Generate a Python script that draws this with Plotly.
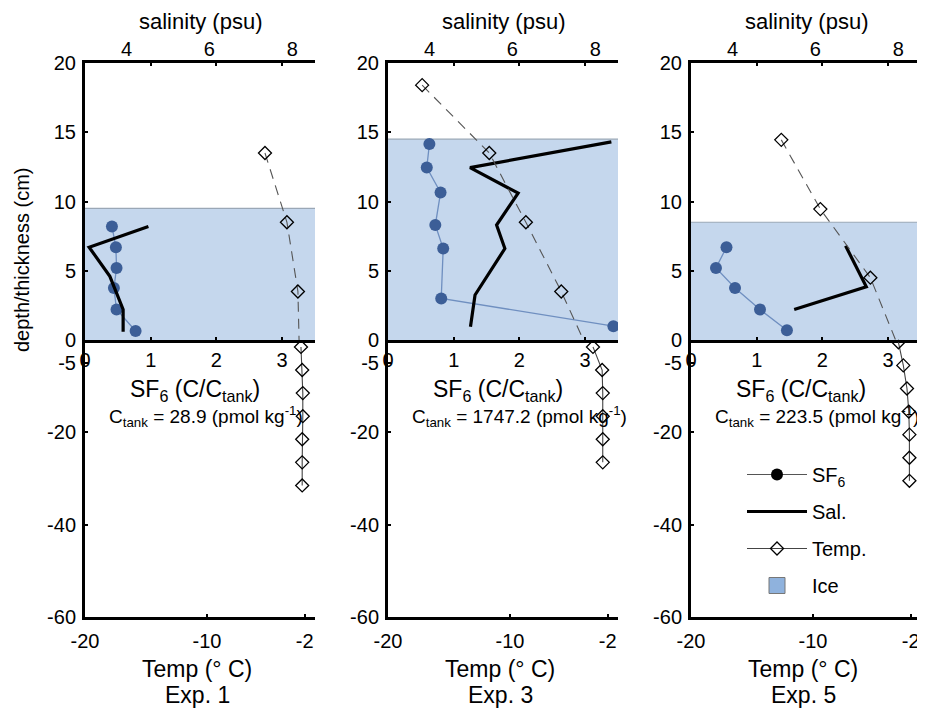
import plotly.graph_objects as go

# ---------------- data ----------------
experiments = ["Exp. 1", "Exp. 3", "Exp. 5"]
ctank_values = ["28.9", "1747.2", "223.5"]
ice_thickness = [9.5, 14.5, 8.5]

sf6_depth_1 = [8.2, 6.7, 5.2, 3.75, 2.2, 0.65]
sf6_ratio_1 = [0.41, 0.47, 0.48, 0.44, 0.48, 0.77]
sal_depth_1 = [8.2, 6.7, 4.6, 2.2, 0.6]
sal_psu_1 = [4.53, 3.10, 3.60, 3.92, 3.92]
temp_depth_1 = [13.5, 8.5, 3.5, -1.5, -6.5, -11.5, -16.5, -21.5, -26.5, -31.5]
temp_c_1 = [-5.25, -3.45, -2.55, -2.3, -2.2, -2.15, -2.15, -2.2, -2.2, -2.2]

sf6_depth_2 = [14.15, 12.45, 10.65, 8.3, 6.6, 3.0, 1.0]
sf6_ratio_2 = [0.63, 0.59, 0.80, 0.72, 0.84, 0.81, 3.43]
sal_depth_2 = [14.3, 12.45, 10.6, 8.3, 6.6, 3.25, 0.95]
sal_psu_2 = [8.39, 4.98, 6.14, 5.62, 5.82, 5.10, 4.99]
temp_depth_2 = [18.4, 13.5, 8.5, 3.5, -1.5, -6.5, -11.5, -16.5, -21.5, -26.5]
temp_c_2 = [-17.2, -11.7, -8.7, -5.8, -3.2, -2.45, -2.4, -2.4, -2.4, -2.4]

sf6_depth_3 = [6.7, 5.2, 3.75, 2.2, 0.7]
sf6_ratio_3 = [0.54, 0.38, 0.67, 1.05, 1.46]
sal_depth_3 = [6.8, 3.85, 2.2]
sal_psu_3 = [6.73, 7.23, 5.49]
temp_depth_3 = [14.45, 9.45, 4.5, -0.5, -5.5, -10.5, -15.5, -20.5, -25.5, -30.5]
temp_c_3 = [-12.6, -9.4, -5.3, -3.0, -2.6, -2.3, -2.15, -2.1, -2.1, -2.1]

sf6_depths = [sf6_depth_1, sf6_depth_2, sf6_depth_3]
sf6_ratios = [sf6_ratio_1, sf6_ratio_2, sf6_ratio_3]
sal_depths = [sal_depth_1, sal_depth_2, sal_depth_3]
sal_psus = [sal_psu_1, sal_psu_2, sal_psu_3]
temp_depths = [temp_depth_1, temp_depth_2, temp_depth_3]
temp_cs = [temp_c_1, temp_c_2, temp_c_3]

sf6_ticks = [0, 1, 2, 3]
sal_ticks = [4, 6, 8]
depth_ticks_upper = [0, 5, 10, 15, 20]
depth_ticks_lower = [-60, -40, -20, -5]
depth_labels_lower = ["-60", "-40", "-20", "-5"]
temp_ticks = [-20, -10, -2]
temp_labels = ["-20", "-10", "-2"]

# ---------------- layout helpers ----------------
# the page places the figure 8 px from the window's top-left corner
OFF = 8
W, H = 925 - OFF, 711 - OFF
FONT = "Liberation Sans, Arial, Helvetica, sans-serif"


def px(x):
    return (x - OFF) / W


def py(y):
    return 1 - (y - OFF) / H


def ax_id(letter, n):
    return letter if n == 1 else f"{letter}{n}"


def ax_key(letter, n):
    return f"{letter}axis" if n == 1 else f"{letter}axis{n}"


panel_left = [85, 388, 691]
panel_width = 230
y_top, y_mid, y_bot = 63, 340, 617

SF6_RANGE = [0, 3.5]
SAL_RANGE = [3, 8.55]
TEMP_RANGE = [-20, -1.15]

ICE_BASE = "#8fb2dd"
SF6_COLOR = "#3c5e97"
SF6_LINE = "#6f8fc0"
TITLE_SIZE = 23

fig = go.Figure()
layout = dict(
    width=W, height=H, autosize=False,
    margin=dict(l=0, r=0, t=0, b=0, autoexpand=False),
    paper_bgcolor="white", plot_bgcolor="rgba(0,0,0,0)",
    font=dict(family=FONT, size=20, color="black"),
    showlegend=True,
)
shapes = []
annotations = []

tick_common = dict(ticks="inside", ticklen=3, tickwidth=2, tickcolor="black",
                   showgrid=False, zeroline=False, automargin=False,
                   tickfont=dict(family=FONT, size=20, color="black"))

leg_ax = None
for i in range(3):
    L = panel_left[i]
    xd = [px(L), px(L + panel_width)]
    yd_up = [py(y_mid), py(y_top)]
    yd_lo = [py(y_bot), py(y_mid)]
    xs = 4 * i + 1
    ys = 3 * i + 1
    x_sf6, x_sal, x_tu, x_tl = [ax_id("x", xs + k) for k in range(4)]
    y_up, y_upr, y_lo = [ax_id("y", ys + k) for k in range(3)]
    k_sf6, k_sal, k_tu, k_tl = [ax_key("x", xs + k) for k in range(4)]
    k_up, k_upr, k_lo = [ax_key("y", ys + k) for k in range(3)]

    layout[k_sf6] = dict(domain=xd, anchor=y_up, range=SF6_RANGE, tickvals=sf6_ticks,
                         showline=True, linewidth=3, linecolor="black", mirror="ticks",
                         ticklabelstandoff=0, **tick_common)
    layout[k_sal] = dict(overlaying=x_sf6, anchor=y_up, side="top", range=SAL_RANGE,
                         tickvals=sal_ticks, showline=False, showgrid=False, zeroline=False,
                         ticks="", ticklabelstandoff=2, automargin=False,
                         tickfont=dict(family=FONT, size=20, color="black"))
    layout[k_tu] = dict(overlaying=x_sf6, anchor=y_up, range=TEMP_RANGE, visible=False,
                        automargin=False)
    layout[k_tl] = dict(domain=xd, anchor=y_lo, range=TEMP_RANGE, tickvals=temp_ticks,
                        ticktext=temp_labels,
                        showline=True, linewidth=3, linecolor="black",
                        ticklabelstandoff=4, **tick_common)
    layout[k_up] = dict(domain=yd_up, anchor=x_sf6, range=[0, 20], tickvals=depth_ticks_upper,
                        showline=True, linewidth=3, linecolor="black",
                        ticklabelstandoff=2, **tick_common)
    layout[k_upr] = dict(overlaying=y_up, anchor=x_sf6, side="right", range=[0, 20],
                         tickvals=depth_ticks_upper, showline=False, showticklabels=False,
                         ticks="inside", ticklen=3, tickwidth=2, tickcolor="black",
                         showgrid=False, zeroline=False, automargin=False)
    layout[k_lo] = dict(domain=yd_lo, anchor=x_tl, range=[-60, 0], tickvals=depth_ticks_lower,
                        ticktext=depth_labels_lower,
                        showline=True, linewidth=3, linecolor="black",
                        ticklabelstandoff=2, **tick_common)

    # ice layer
    shapes.append(dict(type="rect", xref=f"{x_sf6} domain", yref=y_up, x0=0, x1=1,
                       y0=0, y1=ice_thickness[i], fillcolor=ICE_BASE, opacity=0.52,
                       line=dict(width=0), layer="below"))
    shapes.append(dict(type="line", xref=f"{x_sf6} domain", yref=y_up, x0=0, x1=1,
                       y0=ice_thickness[i], y1=ice_thickness[i],
                       line=dict(color="#9aa7b6", width=1.2), layer="below"))

    # SF6
    fig.add_trace(go.Scatter(x=sf6_ratios[i], y=sf6_depths[i], xaxis=x_sf6, yaxis=y_up,
                             mode="lines+markers", showlegend=False,
                             line=dict(color=SF6_LINE, width=1.3),
                             marker=dict(color=SF6_COLOR, size=12, symbol="circle")))
    # salinity
    fig.add_trace(go.Scatter(x=sal_psus[i], y=sal_depths[i], xaxis=x_sal, yaxis=y_up,
                             mode="lines", showlegend=False,
                             line=dict(color="black", width=3.2)))
    # temperature in the upper (ice/air) axes
    fig.add_trace(go.Scatter(x=temp_cs[i], y=temp_depths[i], xaxis=x_tu, yaxis=y_up,
                             mode="lines+markers", showlegend=False,
                             line=dict(color="#555555", width=1.1, dash="10px,7px"),
                             marker=dict(symbol="diamond-open", size=10, color="black",
                                         line=dict(width=1.3))))
    # temperature in the lower (water) axes
    lo_x = [t for t, d in zip(temp_cs[i], temp_depths[i]) if d < 0]
    lo_y = [d for d in temp_depths[i] if d < 0]
    fig.add_trace(go.Scatter(x=lo_x, y=lo_y, xaxis=x_tl, yaxis=y_lo,
                             mode="lines+markers", showlegend=False,
                             line=dict(color="#444444", width=1.1),
                             marker=dict(symbol="diamond-open", size=10, color="black",
                                         line=dict(width=1.3))))
    leg_ax = dict(xaxis=x_tl, yaxis=y_lo)

    cx = L + panel_width / 2
    annotations += [
        dict(text="salinity (psu)", x=px(cx), y=py(22), xref="paper", yref="paper",
             showarrow=False, xanchor="center", yanchor="middle", font=dict(size=22)),
        dict(text="SF<sub>6</sub> (C/C<sub>tank</sub>)", x=px(cx - 5), y=py(390),
             xref="paper", yref="paper", showarrow=False, xanchor="center",
             yanchor="middle", font=dict(size=TITLE_SIZE)),
        dict(text=f"C<sub>tank</sub> = {ctank_values[i]} (pmol kg<sup>-1</sup>)",
             x=px(L + 22), y=py(416), xref="paper", yref="paper", showarrow=False,
             xanchor="left", yanchor="middle", font=dict(size=19)),
        dict(text="Temp (° C)", x=px(cx - 3), y=py(669), xref="paper", yref="paper",
             showarrow=False, xanchor="center", yanchor="middle",
             font=dict(size=TITLE_SIZE)),
        dict(text=experiments[i], x=px(cx - 3), y=py(695), xref="paper", yref="paper",
             showarrow=False, xanchor="center", yanchor="middle",
             font=dict(size=TITLE_SIZE)),
    ]

annotations.append(dict(text="depth/thickness (cm)", x=px(22), y=py(260), xref="paper",
                        yref="paper", showarrow=False, textangle=-90, xanchor="center",
                        yanchor="middle", font=dict(size=20)))

# legend entries (no data points, legend only)
fig.add_trace(go.Scatter(x=[None], y=[None], name="SF<sub>6</sub>", mode="lines+markers",
                         legendgroup="a", line=dict(color="#555555", width=1.2),
                         marker=dict(color="black", size=12), **leg_ax))
fig.add_trace(go.Scatter(x=[None], y=[None], name="Sal.", mode="lines", legendgroup="b",
                         line=dict(color="black", width=3.2), **leg_ax))
fig.add_trace(go.Scatter(x=[None], y=[None], name="Temp.", mode="lines+markers",
                         legendgroup="c", line=dict(color="#444444", width=1.1),
                         marker=dict(symbol="diamond-open", size=10, color="black",
                                     line=dict(width=1.3)), **leg_ax))
fig.add_trace(go.Scatter(x=[None], y=[None], name="Ice", mode="markers",
                         legendgroup="d",
                         marker=dict(symbol="square", size=30, color=ICE_BASE,
                                     line=dict(color="#777777", width=1)), **leg_ax))

layout["legend"] = dict(x=px(742), y=py(455), xanchor="left", yanchor="top",
                        bgcolor="rgba(0,0,0,0)", font=dict(family=FONT, size=20),
                        itemwidth=60, tracegroupgap=8, traceorder="grouped")
layout["shapes"] = shapes
layout["annotations"] = annotations
fig.update_layout(**layout)
fig.write_html("out.html")
